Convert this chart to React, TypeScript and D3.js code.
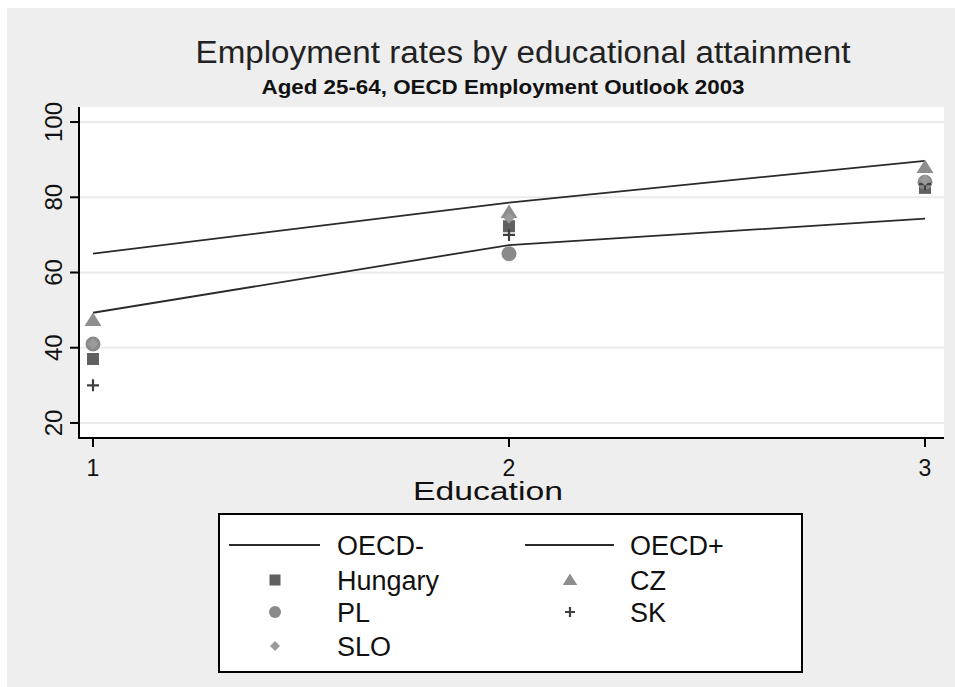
import React from "react";
import * as d3 from "d3";

const education = [1, 2, 3];
const oecdMinus = [49.3, 67.3, 74.3];
const oecdPlus = [65, 78.6, 89.7];
const hungary = [37, 72.3, 82.5];
const cz = [47.3, 76, 88];
const pl = [41, 65, 84];
const sk = [30, 70, 83.5];
const slo = [41, 74.5, 84.5];
const yTicks = [20, 40, 60, 80, 100];
const xTicks = [1, 2, 3];

const W = 955, H = 687;
const PL = 79, PR = 944, PT = 107, PB = 438;

const x = d3.scaleLinear().domain([1, 3]).range([93, 925]);
const y = d3.scaleLinear().domain([16, 104]).range([PB, PT]);

const narrow = "'Liberation Sans Narrow', 'Arial Narrow', 'Liberation Sans', Arial, sans-serif";
const sans = "'Liberation Sans', Arial, sans-serif";

type Shape = "square" | "circle" | "diamond" | "triangle" | "plus";

function Marker({ shape, cx, cy, s, fill }: { shape: Shape; cx: number; cy: number; s: number; fill: string }) {
  if (shape === "square") return <rect x={cx - s / 2} y={cy - s / 2} width={s} height={s} fill={fill} />;
  if (shape === "circle") return <circle cx={cx} cy={cy} r={s / 2 + 0.5} fill={fill} />;
  if (shape === "diamond") {
    const h = s / 2;
    return <path d={`M${cx},${cy - h}L${cx + h},${cy}L${cx},${cy + h}L${cx - h},${cy}Z`} fill={fill} />;
  }
  if (shape === "triangle") {
    const h = s * 0.55;
    return <path d={`M${cx},${cy - h}L${cx + h * 1.1},${cy + h * 0.75}L${cx - h * 1.1},${cy + h * 0.75}Z`} fill={fill} />;
  }
  const h = s / 2;
  return <path d={`M${cx - h},${cy}H${cx + h}M${cx},${cy - h}V${cy + h}`} stroke={fill} strokeWidth={2.2} fill="none" />;
}

const series: { name: string; data: number[]; shape: Shape; color: string; size: number }[] = [
  { name: "Hungary", data: hungary, shape: "square", color: "#606060", size: 12 },
  { name: "CZ", data: cz, shape: "triangle", color: "#8e8e8e", size: 14 },
  { name: "PL", data: pl, shape: "circle", color: "#8a8a8a", size: 14 },
  { name: "SK", data: sk, shape: "plus", color: "#404040", size: 12 },
  { name: "SLO", data: slo, shape: "diamond", color: "#9a9a9a", size: 11 },
];

export default function App() {
  const line = d3.line<number>().x((_, i) => x(education[i])).y((d) => y(d));
  const legendRows = [
    { col: 0, row: 0, label: "OECD-", kind: "line" },
    { col: 1, row: 0, label: "OECD+", kind: "line" },
    { col: 0, row: 1, label: "Hungary", shape: "square", color: "#606060", s: 11 },
    { col: 1, row: 1, label: "CZ", shape: "triangle", color: "#8e8e8e", s: 12 },
    { col: 0, row: 2, label: "PL", shape: "circle", color: "#8a8a8a", s: 11 },
    { col: 1, row: 2, label: "SK", shape: "plus", color: "#404040", s: 10 },
    { col: 0, row: 3, label: "SLO", shape: "diamond", color: "#9a9a9a", s: 10 },
  ] as any[];
  const rowY = [545, 580, 612, 646];
  const colLine = [[229, 320], [525, 614]];
  const colMarker = [275, 570];
  const colText = [337, 630];

  return (
    <svg width={W} height={H} style={{ position: "absolute", left: 0, top: 0 }}>
      <rect x={0} y={0} width={W} height={H} fill="#ffffff" />
      <rect x={7} y={8} width={W - 7} height={H - 8} fill="#eeeeee" />
      <rect x={PL} y={PT} width={PR - PL} height={PB - PT} fill="#ffffff" />
      {yTicks.map((t) => (
        <line key={"g" + t} x1={PL} x2={PR} y1={y(t)} y2={y(t)} stroke="#ebebeb" strokeWidth={2} />
      ))}
      {/* axes */}
      <line x1={PL} x2={PL} y1={PT} y2={PB + 1} stroke="#000" strokeWidth={2} />
      <line x1={PL - 1} x2={PR} y1={PB} y2={PB} stroke="#000" strokeWidth={2} />
      {yTicks.map((t) => (
        <g key={"yt" + t}>
          <line x1={PL - 9} x2={PL} y1={y(t)} y2={y(t)} stroke="#000" strokeWidth={2} />
          <text transform={`translate(62,${y(t)}) rotate(-90)`} textAnchor="middle" fontFamily={sans} fontSize={24} fill="#111">
            {t}
          </text>
        </g>
      ))}
      {xTicks.map((t) => (
        <g key={"xt" + t}>
          <line x1={x(t)} x2={x(t)} y1={PB} y2={PB + 9} stroke="#000" strokeWidth={2} />
          <text x={x(t)} y={476} textAnchor="middle" fontFamily={narrow} fontSize={23} fill="#111">
            {t}
          </text>
        </g>
      ))}
      <text x={488} y={500} textAnchor="middle" fontFamily={narrow} fontSize={25} fill="#111" textLength={150} lengthAdjust="spacingAndGlyphs">
        Education
      </text>
      {/* title */}
      <text x={523} y={63} textAnchor="middle" fontFamily={narrow} fontSize={31} fill="#222" textLength={655} lengthAdjust="spacingAndGlyphs">
        Employment rates by educational attainment
      </text>
      <text x={503} y={94} textAnchor="middle" fontFamily={narrow} fontSize={20} fontWeight={700} fill="#111" textLength={483} lengthAdjust="spacingAndGlyphs">
        Aged 25-64, OECD Employment Outlook 2003
      </text>
      {/* lines */}
      <path d={line(oecdMinus) || ""} fill="none" stroke="#2a2a2a" strokeWidth={1.8} />
      <path d={line(oecdPlus) || ""} fill="none" stroke="#2a2a2a" strokeWidth={1.8} />
      {series.map((s) =>
        s.data.map((v, i) => (
          <Marker key={s.name + i} shape={s.shape} cx={x(education[i])} cy={y(v)} s={s.size} fill={s.color} />
        ))
      )}
      {/* legend */}
      <rect x={219} y={514} width={583} height={158} fill="#ffffff" stroke="#000" strokeWidth={2} />
      {legendRows.map((r) => (
        <g key={r.label}>
          {r.kind === "line" ? (
            <line x1={colLine[r.col][0]} x2={colLine[r.col][1]} y1={rowY[r.row]} y2={rowY[r.row]} stroke="#2a2a2a" strokeWidth={1.8} />
          ) : (
            <Marker shape={r.shape} cx={colMarker[r.col]} cy={rowY[r.row]} s={r.s} fill={r.color} />
          )}
          <text x={colText[r.col]} y={rowY[r.row] + 10} fontFamily={sans} fontSize={27} fill="#111">
            {r.label}
          </text>
        </g>
      ))}
    </svg>
  );
}
